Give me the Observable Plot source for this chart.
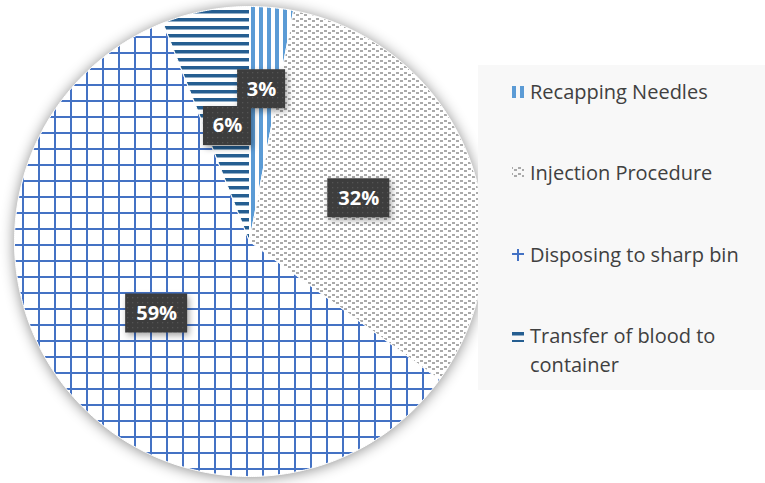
<!DOCTYPE html>
<html>
<head>
<meta charset="utf-8">
<script src="https://cdn.jsdelivr.net/npm/d3@7"></script>
<script src="https://cdn.jsdelivr.net/npm/@observablehq/plot@0.6"></script>
<style>
  html, body { margin: 0; padding: 0; background: #ffffff; }
  #wrap { position: relative; width: 765px; height: 483px; overflow: hidden; background: #fff; font-family: "Open Sans", sans-serif; }
  #chart { position: absolute; left: 0; top: 0; }
  #legend { position: absolute; left: 478px; top: 65px; width: 287px; height: 325px; background: #f8f8f8; }
  .entry { position: absolute; left: 34px; width: 245px; font-size: 20px; line-height: 29px; color: #404040; }
  .entry svg { position: absolute; left: 0; top: 9px; }
  .entry span { display: block; margin-left: 18px; width: 218px; }
</style>
</head>
<body>
<svg width="0" height="0" style="position:absolute">
  <defs>
    <pattern id="pRecap" patternUnits="userSpaceOnUse" width="8" height="8" x="2.5" y="-0.5">
      <rect width="8" height="8" fill="#fff"/>
      <rect x="0" width="4" height="8" fill="#5b9bd5"/>
    </pattern>
    <pattern id="pInject" patternUnits="userSpaceOnUse" width="8" height="6" x="-0.5" y="-0.5">
      <rect width="8" height="6" fill="#fff"/>
      <rect x="0" y="2" width="3" height="2" fill="#aaaaaa"/>
      <rect x="4" y="0" width="3" height="2" fill="#aaaaaa"/>
    </pattern>
    <pattern id="lInject" patternUnits="userSpaceOnUse" width="8" height="6" x="2" y="0">
      <rect width="8" height="6" fill="#f8f8f8"/>
      <rect x="0" y="2" width="3" height="2" fill="#aaaaaa"/>
      <rect x="4" y="0" width="3" height="2" fill="#aaaaaa"/>
    </pattern>
    <pattern id="pDispose" patternUnits="userSpaceOnUse" width="16" height="16" x="5.5" y="3.5">
      <rect width="16" height="16" fill="#fff"/>
      <rect x="0" y="0" width="2" height="16" fill="#4472c4"/>
      <rect x="0" y="0" width="16" height="2" fill="#4472c4"/>
    </pattern>
    <pattern id="pTransfer" patternUnits="userSpaceOnUse" width="8" height="8" x="-0.5" y="1.5">
      <rect width="8" height="8" fill="#fff"/>
      <rect x="0" y="0" width="8" height="3.5" fill="#255e91"/>
    </pattern>
    <pattern id="lRecap" patternUnits="userSpaceOnUse" width="8" height="8" x="0">
      <rect width="8" height="8" fill="#f8f8f8"/>
      <rect x="0" width="4" height="8" fill="#5b9bd5"/>
    </pattern>
    <pattern id="lDispose" patternUnits="userSpaceOnUse" width="16" height="16" x="5" y="4">
      <rect width="16" height="16" fill="#f8f8f8"/>
      <rect x="0" y="0" width="2" height="16" fill="#4472c4"/>
      <rect x="-8" y="0" width="32" height="2" fill="#4472c4"/>
    </pattern>
    <pattern id="lTransfer" patternUnits="userSpaceOnUse" width="8" height="8" y="2">
      <rect width="8" height="8" fill="#f8f8f8"/>
      <rect x="0" y="0" width="8" height="3.5" fill="#255e91"/>
    </pattern>
    <pattern id="pBox" patternUnits="userSpaceOnUse" width="5" height="5">
      <rect width="5" height="5" fill="#3d3d3d"/>
      <rect x="2" y="2" width="1.3" height="1.3" fill="#545454"/>
    </pattern>
  </defs>
</svg>
<div id="wrap">
  <div id="chart"></div>
  <div id="legend"></div>
</div>
<script>
// ---- data ----
const categories = ["Recapping Needles", "Injection Procedure", "Disposing to sharp bin", "Transfer of blood to container"];
const values = [3, 32, 59, 6];
const labels = ["3%", "32%", "59%", "6%"];

// ---- styles / layout ----
const patternFor = {
  "Recapping Needles": "url(#pRecap)",
  "Injection Procedure": "url(#pInject)",
  "Disposing to sharp bin": "url(#pDispose)",
  "Transfer of blood to container": "url(#pTransfer)"
};
const legendSwatch = {
  "Recapping Needles": "url(#lRecap)",
  "Injection Procedure": "url(#lInject)",
  "Disposing to sharp bin": "url(#lDispose)",
  "Transfer of blood to container": "url(#lTransfer)"
};
const W = 765, H = 483;
const cx = 249, cy = 241, R = 235;

// build slices (angles clockwise from 12 o'clock)
const arcs = d3.pie().sort(null).value(d => d)(values);
const slices = [];
const lab = [];
arcs.forEach((a, i) => {
  const name = categories[i];
  const span = a.endAngle - a.startAngle;
  const n = Math.max(4, Math.ceil(span / (Math.PI / 360)));
  const pts = [{name, x: 0, y: 0}];
  for (let k = 0; k <= n; k++) {
    const t = a.startAngle + span * k / n;
    pts.push({name, x: Math.sin(t), y: Math.cos(t)});
  }
  pts.push({name, x: 0, y: 0});
  slices.push(pts);
  const share = values[i] / d3.sum(values);
  const rr = share < 0.05 ? 0.65 : 0.5;
  const mid = share < 0.05 ? a.startAngle + span * 0.42 : (a.startAngle + a.endAngle) / 2;
  const x = rr * Math.sin(mid), y = rr * Math.cos(mid);
  const wpx = 20 + 14 * labels[i].length, hpx = 39;
  lab.push({
    label: labels[i], x, y,
    x1: x - wpx / 2 / R, x2: x + wpx / 2 / R,
    y1: y - hpx / 2 / R, y2: y + hpx / 2 / R
  });
});

const plot = Plot.plot({
  width: W, height: H, margin: 0,
  x: {domain: [-cx / R, (W - cx) / R], axis: null},
  y: {domain: [-(H - cy) / R, cy / R], axis: null},
  style: {background: "transparent", overflow: "visible", fontFamily: "Open Sans, sans-serif"},
  marks: [
    ...slices.map((pts, i) => Plot.line(pts, {x: "x", y: "y", fill: patternFor[categories[i]], stroke: "white", strokeWidth: 1, strokeLinejoin: "round"})),
    Plot.rect(lab, {x1: "x1", x2: "x2", y1: "y1", y2: "y2", fill: "url(#pBox)"}),
    Plot.text(lab, {x: "x", y: "y", text: "label", fill: "white", fontSize: 20, fontWeight: "bold"})
  ]
});
// mark groups are rendered in order: 4 slices, label boxes, label texts
const svg = d3.select(plot);
const groups = svg.selectAll(":scope > g").nodes();
const pieGroups = groups.slice(0, slices.length);
if (pieGroups.length) {
  const holder = svg.insert("g", () => pieGroups[0]).style("filter", "drop-shadow(0px 1px 7px rgba(0,0,0,0.45))");
  pieGroups.forEach(g => holder.node().appendChild(g));
}
if (groups[slices.length]) d3.select(groups[slices.length]).style("filter", "drop-shadow(2px 3px 3px rgba(0,0,0,0.35))");
document.getElementById("chart").appendChild(plot);

// legend
const legend = d3.select("#legend");
const tops = [12, 93, 175, 256];
categories.forEach((c, i) => {
  const e = legend.append("div").attr("class", "entry").style("top", tops[i] + "px");
  const s = e.append("svg").attr("width", 12).attr("height", 12);
  s.append("rect").attr("width", 12).attr("height", 12).attr("fill", legendSwatch[c]);
  e.append("span").text(c);
});
</script>
</body>
</html>
